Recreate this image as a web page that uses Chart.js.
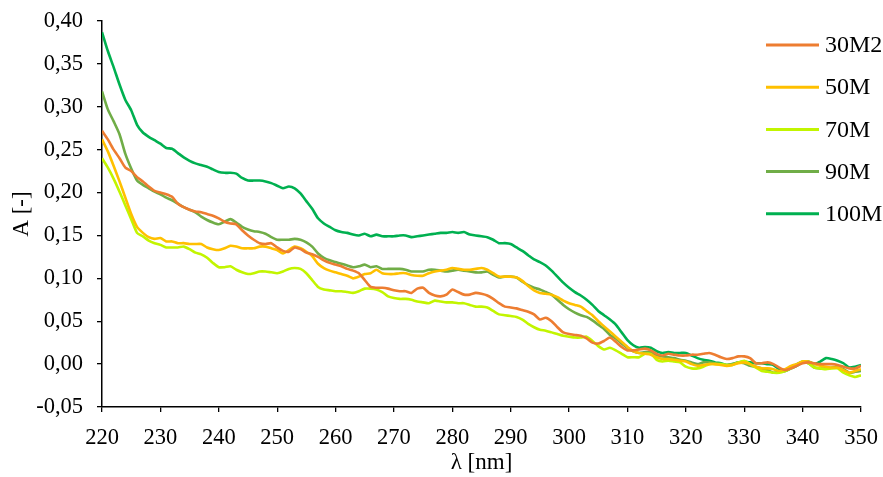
<!DOCTYPE html>
<html>
<head>
<meta charset="utf-8">
<script src="https://cdn.jsdelivr.net/npm/chart.js@4.4.1/dist/chart.umd.min.js"></script>
<style>
  html, body { margin: 0; padding: 0; background: #fff; }
</style>
</head>
<body>
<canvas id="spectra" width="883" height="477"></canvas>
<script>
// wavelength grid, nm
const wavelengths = [
  220,221,222,223,224,225,226,227,228,229,230,231,232,233,234,235,236,237,238,239,
  240,241,242,243,244,245,246,247,248,249,250,251,252,253,254,255,256,257,258,259,
  260,261,262,263,264,265,266,267,268,269,270,271,272,273,274,275,276,277,278,279,
  280,281,282,283,284,285,286,287,288,289,290,291,292,293,294,295,296,297,298,299,
  300,301,302,303,304,305,306,307,308,309,310,311,312,313,314,315,316,317,318,319,
  320,321,322,323,324,325,326,327,328,329,330,331,332,333,334,335,336,337,338,339,
  340,341,342,343,344,345,346,347,348,349,350
];

const seriesNames = ['30M2', '50M', '70M', '90M', '100M'];
const seriesColors = ['#ED7D31', '#FFC000', '#C2F500', '#70AD47', '#00B050'];

const a30M2 = [
  .272,.262,.250,.240,.229,.225,.218,.213,.207,.202,.200,.198,.195,.187,.183,.180,.178,.177,.175,.173,
  .170,.166,.164,.163,.156,.150,.145,.141,.140,.141,.136,.132,.131,.136,.134,.130,.128,.125,.121,.118,
  .116,.114,.111,.109,.106,.098,.090,.089,.089,.088,.086,.085,.085,.083,.088,.089,.083,.080,.079,.081,
  .087,.084,.081,.081,.083,.082,.080,.076,.071,.067,.066,.065,.063,.061,.058,.052,.054,.050,.043,.037,
  .035,.034,.033,.030,.025,.024,.027,.031,.026,.020,.016,.016,.017,.018,.016,.012,.010,.012,.011,.010,
  .010,.011,.011,.012,.013,.011,.008,.006,.007,.009,.009,.007,.001,.001,.002,.000,-.004,-.007,-.005,-.002,
  .001,.002,.001,.000,.000,.000,-.001,-.003,-.005,-.005,-.002
];
const a50M = [
  .262,.248,.231,.213,.194,.175,.160,.153,.148,.146,.147,.143,.143,.141,.141,.140,.140,.140,.136,.134,
  .133,.135,.138,.137,.135,.135,.135,.137,.137,.135,.133,.129,.133,.137,.135,.131,.126,.117,.112,.109,
  .107,.105,.103,.100,.102,.105,.106,.110,.106,.105,.105,.106,.106,.104,.103,.103,.106,.108,.109,.110,
  .112,.111,.110,.110,.111,.112,.110,.106,.102,.102,.102,.101,.097,.091,.086,.083,.082,.081,.078,.074,
  .071,.069,.067,.062,.057,.050,.044,.038,.032,.026,.020,.015,.013,.012,.011,.008,.006,.006,.005,.004,
  .003,.000,-.002,-.001,.000,.000,-.001,-.002,-.001,.001,.002,.000,-.003,-.005,-.005,-.006,-.008,-.006,-.002,.000,
  .003,.003,.000,-.002,-.003,-.004,-.004,-.007,-.010,-.008,-.006
];
const a70M = [
  .240,.229,.216,.201,.185,.169,.153,.149,.144,.141,.139,.136,.136,.136,.137,.134,.130,.128,.124,.118,
  .113,.113,.114,.110,.107,.105,.106,.108,.108,.107,.106,.108,.111,.112,.111,.106,.098,.090,.087,.086,
  .085,.085,.084,.083,.085,.088,.088,.087,.084,.079,.077,.076,.076,.075,.073,.072,.071,.074,.073,.072,
  .072,.071,.071,.069,.067,.067,.066,.062,.058,.057,.056,.055,.052,.047,.043,.040,.039,.037,.035,.033,
  .032,.031,.031,.032,.027,.021,.017,.019,.016,.012,.008,.008,.008,.012,.012,.005,.003,.004,.003,.002,
  -.003,-.005,-.005,-.003,.000,.000,.000,-.001,-.001,.002,.004,.000,-.004,-.008,-.009,-.010,-.010,-.008,-.005,-.001,
  .003,.001,-.004,-.005,-.006,-.005,-.005,-.010,-.013,-.015,-.013
];
const a90M = [
  .318,.297,.283,.268,.245,.228,.214,.209,.205,.201,.198,.194,.191,.187,.183,.180,.177,.172,.168,.165,
  .163,.166,.169,.165,.160,.157,.155,.154,.152,.148,.145,.145,.145,.146,.145,.142,.137,.129,.124,.121,
  .119,.117,.115,.113,.114,.116,.113,.114,.111,.111,.111,.111,.110,.108,.108,.108,.110,.110,.109,.108,
  .109,.110,.109,.108,.107,.107,.108,.104,.101,.102,.102,.101,.096,.092,.089,.087,.084,.081,.075,.069,
  .064,.060,.057,.055,.051,.046,.041,.034,.030,.024,.019,.015,.013,.014,.014,.010,.009,.008,.007,.005,
  .004,.002,.000,.002,.002,.001,.000,-.001,.000,.002,.001,-.002,-.003,-.005,-.007,-.010,-.009,-.008,-.004,.000,
  .003,.001,-.004,-.005,-.005,-.004,-.004,-.006,-.010,-.009,-.008
];
const a100M = [
  .387,.365,.346,.326,.308,.296,.279,.270,.265,.261,.257,.252,.251,.246,.241,.237,.234,.232,.230,.227,
  .224,.223,.223,.222,.217,.214,.214,.214,.213,.211,.208,.205,.207,.205,.199,.190,.181,.170,.164,.160,
  .156,.154,.153,.151,.150,.152,.149,.151,.149,.149,.149,.150,.150,.148,.149,.150,.151,.152,.153,.153,
  .154,.153,.154,.151,.150,.149,.148,.145,.141,.141,.140,.136,.132,.127,.122,.119,.115,.109,.102,.095,
  .089,.084,.080,.075,.069,.062,.057,.052,.046,.037,.028,.022,.019,.020,.019,.015,.013,.014,.013,.013,
  .013,.010,.007,.005,.004,.002,.001,-.001,.000,.002,.003,.002,.001,.001,.000,-.001,-.006,-.008,-.005,-.002,
  .002,.003,.000,.003,.007,.006,.004,.001,-.004,-.003,-.001
];

const yTicks = { min: -0.05, max: 0.40, step: 0.05 };
const xTicks = { min: 220, max: 350, step: 10 };

const allSeries = [a30M2, a50M, a70M, a90M, a100M];

const serif = '"Liberation Serif", "Times New Roman", serif';
Chart.defaults.font.family = serif;
Chart.defaults.color = '#000';

// legend drawn inside the plot, top right
const sideKey = {
  id: 'sideKey',
  afterDatasetsDraw(chart) {
    const ctx = chart.ctx;
    ctx.save();
    ctx.font = '24px ' + serif;
    ctx.textBaseline = 'middle';
    ctx.fillStyle = '#000';
    chart.data.datasets.forEach((ds, i) => {
      const y = 45 + i * 42.2;
      ctx.strokeStyle = ds.borderColor;
      ctx.lineWidth = 3;
      ctx.beginPath();
      ctx.moveTo(766, y);
      ctx.lineTo(819, y);
      ctx.stroke();
      ctx.fillText(ds.label, 825, y + 1);
    });
    ctx.restore();
  }
};

const spectra = new Chart(
  document.getElementById('spectra'),
  {
    type: 'line',
    data: {
      datasets: allSeries.map((vals, i) => ({
        label: seriesNames[i],
        data: vals.map((v, j) => ({ x: wavelengths[j], y: v })),
        borderColor: seriesColors[i],
        backgroundColor: seriesColors[i],
        borderWidth: 2.6,
        pointRadius: 0,
        tension: 0.2,
        fill: false
      }))
    },
    options: {
      responsive: false,
      animation: false,
      layout: {
        padding: { left: 0, top: 21, right: 22, bottom: 0 }
      },
      plugins: {
        legend: { display: false },
        tooltip: { enabled: false }
      },
      scales: {
        x: {
          type: 'linear',
          min: xTicks.min,
          max: xTicks.max,
          ticks: {
            stepSize: xTicks.step,
            font: { size: 22.5 },
            padding: 13,
            maxRotation: 0
          },
          grid: {
            drawOnChartArea: false,
            drawTicks: true,
            tickLength: 5,
            color: '#000',
            lineWidth: 1.3
          },
          border: { color: '#000', width: 1.5 },
          title: {
            display: true,
            text: 'λ [nm]',
            font: { size: 23 },
            padding: { top: 0, bottom: 0 }
          },
          afterFit(scale) {
            scale.height = 70;
            scale.paddingLeft = 0;
            scale.paddingRight = 0;
          }
        },
        y: {
          min: yTicks.min,
          max: yTicks.max,
          ticks: {
            stepSize: yTicks.step,
            font: { size: 22.5 },
            padding: 14,
            callback: (v) => (Math.abs(v) < 1e-9 ? 0 : v).toFixed(2).replace('.', ',')
          },
          grid: {
            drawOnChartArea: false,
            drawTicks: true,
            tickLength: 5,
            color: '#000',
            lineWidth: 1.3
          },
          border: { color: '#000', width: 1.5 },
          title: {
            display: true,
            text: 'A [-]',
            font: { size: 23 },
            padding: { top: 8, bottom: 0 }
          },
          afterFit(scale) {
            scale.width = 102;
            scale.paddingTop = 0;
            scale.paddingBottom = 0;
          }
        }
      }
    },
    plugins: [sideKey]
  }
);
</script>
</body>
</html>
